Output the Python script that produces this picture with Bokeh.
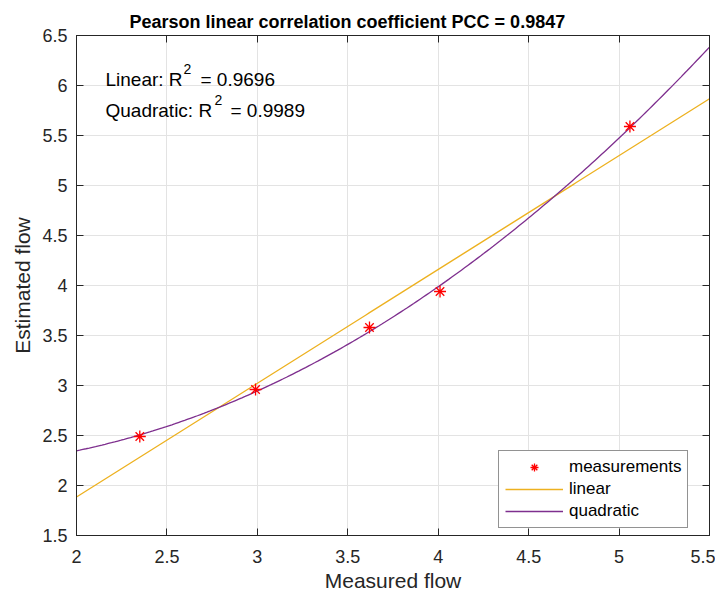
import numpy as np
from bokeh.plotting import figure
from bokeh.models import (Range1d, LinearAxis, FixedTicker, Legend, LegendItem, Label, Title,
                          CustomJSTickFormatter)
from bokeh.embed import file_html
from bokeh.resources import INLINE

# ---- data ----
measured_flow = [2.35, 2.99, 3.62, 4.01, 5.06]
estimated_flow = [2.49, 2.96, 3.58, 3.94, 5.59]
title_text = "Pearson linear correlation coefficient PCC = 0.9847"
linear_r2 = "0.9696"
quadratic_r2 = "0.9989"
x_ticks = [2, 2.5, 3, 3.5, 4, 4.5, 5, 5.5]
y_ticks = [1.5, 2, 2.5, 3, 3.5, 4, 4.5, 5, 5.5, 6, 6.5]

FONT = "Liberation Sans"
DARK = "#262626"

xs = np.array(measured_flow)
ys = np.array(estimated_flow)
lin = np.polyfit(xs, ys, 1)
quad = np.polyfit(xs, ys, 2)
xf = np.linspace(x_ticks[0], x_ticks[-1], 200)

p = figure(width=715, height=598, output_backend="svg", toolbar_location=None,
           x_range=Range1d(2, 5.5), y_range=Range1d(1.5, 6.5),
           min_border_left=76, min_border_right=6, min_border_bottom=63, min_border_top=35)
p.title = Title(text=title_text, align="left", offset=53, text_font=FONT, text_font_size="18px",
                text_font_style="bold", text_color="black", standoff=7)
p.outline_line_color = DARK
p.outline_line_width = 1

for ax in [p.xaxis[0], p.yaxis[0]]:
    ax.major_label_text_font = FONT
    ax.major_label_text_font_size = "18px"
    ax.major_label_text_color = DARK
    ax.axis_label_text_font = FONT
    ax.axis_label_text_font_size = "21px"
    ax.axis_label_text_font_style = "normal"
    ax.axis_label_text_color = DARK
    ax.major_tick_in = 7
    ax.major_tick_out = 0
    ax.minor_tick_in = 0
    ax.minor_tick_out = 0
    ax.axis_line_color = DARK
    ax.major_tick_line_color = DARK
p.xaxis[0].ticker = FixedTicker(ticks=x_ticks)
p.yaxis[0].ticker = FixedTicker(ticks=y_ticks)
p.xaxis[0].axis_label = "Measured flow"
p.yaxis[0].axis_label = "Estimated flow"
p.xaxis[0].major_label_standoff = 14
p.yaxis[0].major_label_standoff = 9
p.xaxis[0].axis_label_standoff = 3
p.yaxis[0].axis_label_standoff = 5

for side, ticks in [("above", x_ticks), ("right", y_ticks)]:
    a = LinearAxis(ticker=FixedTicker(ticks=ticks), major_tick_in=7, major_tick_out=0,
                   minor_tick_in=0, minor_tick_out=0,
                   formatter=CustomJSTickFormatter(code="return ''"),
                   axis_line_color=DARK, major_tick_line_color=DARK, major_label_standoff=0)
    p.add_layout(a, side)

p.xgrid.ticker = FixedTicker(ticks=x_ticks)
p.ygrid.ticker = FixedTicker(ticks=y_ticks)
p.grid.grid_line_color = "#e3e3e3"
p.grid.grid_line_width = 1

r_lin = p.line(xf, np.polyval(lin, xf), line_color="#EDB120", line_width=1.3)
r_quad = p.line(xf, np.polyval(quad, xf), line_color="#7E2F8E", line_width=1.3)
r_pts = p.scatter(measured_flow, estimated_flow, marker="asterisk", size=12,
                  line_color="red", line_width=1.3)

legend = Legend(items=[LegendItem(label="measurements", renderers=[r_pts]),
                       LegendItem(label="linear", renderers=[r_lin]),
                       LegendItem(label="quadratic", renderers=[r_quad])],
                location=(422, 7), glyph_width=58, glyph_height=20, label_height=20,
                label_width=112, spacing=2, padding=6, margin=0, label_standoff=6,
                label_text_font=FONT, label_text_font_size="17px", label_text_color="black",
                border_line_color=DARK, border_line_width=1, background_fill_alpha=1)
p.add_layout(legend)

def add_r2(prefix, val, x0, xsup, xval, yb):
    p.add_layout(Label(x=x0, y=yb, x_units="screen", y_units="screen", text=prefix,
                       text_font=FONT, text_font_size="19px", text_baseline="alphabetic",
                       text_color="black"))
    p.add_layout(Label(x=xsup, y=yb + 11, x_units="screen", y_units="screen", text="2",
                       text_font=FONT, text_font_size="14px", text_baseline="alphabetic",
                       text_color="black"))
    p.add_layout(Label(x=xval, y=yb, x_units="screen", y_units="screen", text="= " + val,
                       text_font=FONT, text_font_size="19px", text_baseline="alphabetic",
                       text_color="black"))

add_r2("Linear: R", linear_r2, 29, 107, 124, 456)
add_r2("Quadratic: R", quadratic_r2, 29, 138, 154, 425)

open("out.html", "w").write(file_html(p, INLINE))
